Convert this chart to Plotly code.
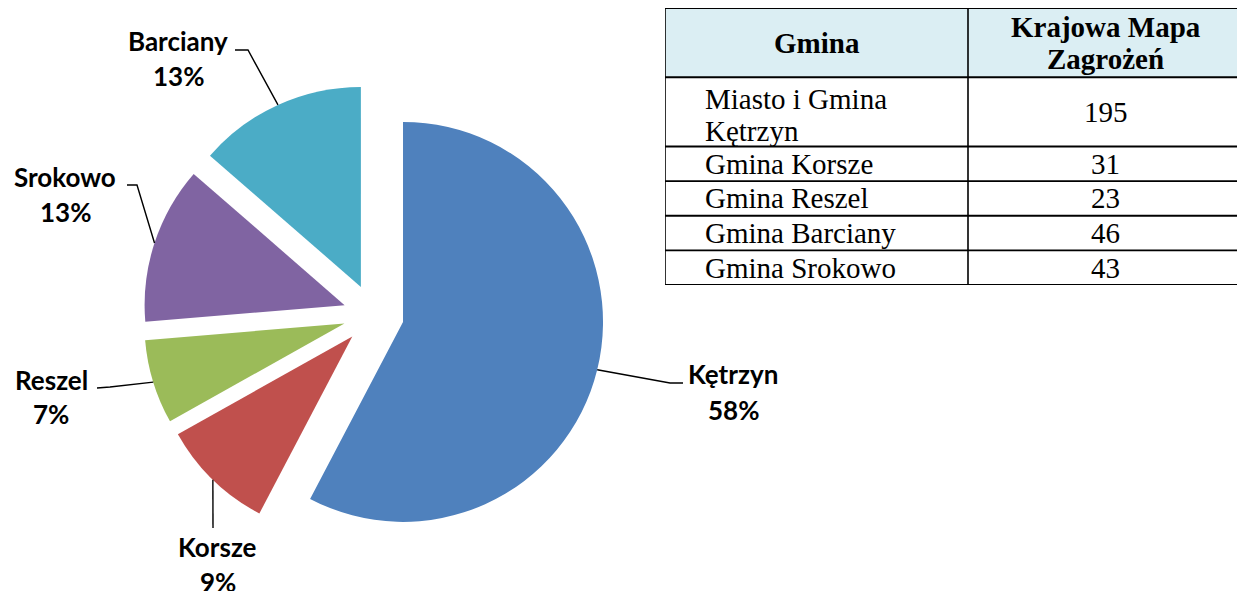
import math
import plotly.graph_objects as go

# ---------------- data ----------------
pie_labels = ["Kętrzyn", "Korsze", "Reszel", "Srokowo", "Barciany"]
pie_values = [195, 31, 23, 43, 46]
pie_pct_text = ["58%", "9%", "7%", "13%", "13%"]
pie_colors = ["#4F81BD", "#C0504D", "#9BBB59", "#8064A2", "#4BACC6"]

table_header = ["Gmina", "Krajowa Mapa<br>Zagrożeń"]
table_names = ["Miasto i Gmina<br>Kętrzyn", "Gmina Korsze", "Gmina Reszel",
               "Gmina Barciany", "Gmina Srokowo"]
table_values = ["195", "31", "23", "46", "43"]

# ---------------- layout / style ----------------
W, H = 1245, 591
OFF = 8   # page body margin: positions below are screen px
PIE_CX, PIE_CY, PIE_R = 373.5 - OFF, 314.6 - OFF, 200.0
PULL = 0.152

# label placement (screen px): elbow of leader line, end of leader line, label centre
label_cfg = {
    "Kętrzyn":  dict(elbow=(670, 383), end=(683, 383), name=(733, 374), pct=(733, 410)),
    "Korsze":   dict(elbow=(213, 528), end=(213, 528), name=(218, 547), pct=(218, 582)),
    "Reszel":   dict(elbow=(110, 387), end=(97, 388), name=(51, 380), pct=(51, 414)),
    "Srokowo":  dict(elbow=(137, 185), end=(127, 185), name=(65, 177), pct=(65, 212)),
    "Barciany": dict(elbow=(248, 50), end=(235, 50), name=(178, 41), pct=(178, 76)),
}

TABLE_LEFT, TABLE_RIGHT, TABLE_TOP, TABLE_BOTTOM = 665 - OFF, 1243 - OFF, 7.3 - OFF, 285 - OFF
col_widths = [303, 275]
row_units = [2, 2, 1, 1, 1, 1]      # header + body rows
TEXT_PAD = 38
LINE_UNITS = 0.93
TABLE_FONT = "Liberation Serif, Times New Roman, serif"
LABEL_FONT = "Lato, Carlito, Calibri, sans-serif"


def px2paper(x, y):
    return (x - OFF) / W, 1 - (y - OFF) / H


box = PIE_R * (2 + 2 * PULL)
dom_x = [(PIE_CX - box / 2) / W, (PIE_CX + box / 2) / W]
dom_y = [1 - (PIE_CY + box / 2) / H, 1 - (PIE_CY - box / 2) / H]

fig = go.Figure()
fig.add_trace(go.Pie(
    labels=pie_labels, values=pie_values, sort=False, direction="clockwise",
    rotation=0, pull=[PULL] * len(pie_values),
    marker=dict(colors=pie_colors, line=dict(width=0)),
    textinfo="none", hoverinfo="label+value", showlegend=False,
    domain=dict(x=dom_x, y=dom_y),
))

shapes = []
annotations = []

# leader lines + labels, anchored at mid-angle of each pulled slice
total = sum(pie_values)
cum = 0
for lab, val, pct in zip(pie_labels, pie_values, pie_pct_text):
    mid = (cum + val / 2) / total * 2 * math.pi
    cum += val
    ax = PIE_CX + OFF + PIE_R * (1 + PULL) * math.sin(mid)
    ay = PIE_CY + OFF - PIE_R * (1 + PULL) * math.cos(mid)
    cfg = label_cfg[lab]
    pts = [px2paper(ax, ay), px2paper(*cfg["elbow"]), px2paper(*cfg["end"])]
    path = "M {} {} L {} {} L {} {}".format(*[c for p in pts for c in p])
    shapes.append(dict(type="path", path=path, xref="paper", yref="paper",
                       line=dict(color="black", width=1.4)))
    for key, txt in (("name", lab), ("pct", pct)):
        x, y = px2paper(*cfg[key])
        annotations.append(dict(x=x, y=y, xref="paper", yref="paper", text=txt,
                                showarrow=False, xanchor="center", yanchor="middle",
                                font=dict(family=LABEL_FONT, size=26, color="black",
                                          weight="bold")))

# ---------------- table on its own axes ----------------
total_w = sum(col_widths)
total_h = sum(row_units)
col_edges = [0]
for w in col_widths:
    col_edges.append(col_edges[-1] + w)
row_edges = [0]
for h in row_units:
    row_edges.append(row_edges[-1] + h)

fig.add_trace(go.Scatter(x=[], y=[], xaxis="x2", yaxis="y2", showlegend=False,
                         hoverinfo="skip"))

shapes.append(dict(type="rect", xref="x2", yref="y2", x0=0, x1=total_w,
                   y0=row_edges[0], y1=row_edges[1], fillcolor="#DBEEF3",
                   line=dict(width=0), layer="below"))
for ry in row_edges:
    shapes.append(dict(type="line", xref="x2", yref="y2", x0=0, x1=total_w,
                       y0=ry, y1=ry, line=dict(color="black", width=1.8)))
for cx in col_edges:
    shapes.append(dict(type="line", xref="x2", yref="y2", x0=cx, x1=cx,
                       y0=0, y1=total_h, line=dict(color="black", width=1.6)))


def add_cell(text, col, row, bold, align):
    lines = text.split("<br>")
    yc = (row_edges[row] + row_edges[row + 1]) / 2
    if align == "left":
        x, xanchor = col_edges[col] + TEXT_PAD, "left"
    else:
        x, xanchor = (col_edges[col] + col_edges[col + 1]) / 2, "center"
    n = len(lines)
    shift = 0.08 if (n > 1 and not bold) else 0
    for k, ln in enumerate(lines):
        y = yc + (k - (n - 1) / 2) * LINE_UNITS + shift
        annotations.append(dict(x=x, y=y, xref="x2", yref="y2", text=ln,
                                showarrow=False, xanchor=xanchor, yanchor="middle",
                                font=dict(family=TABLE_FONT, size=29, color="black",
                                          weight="bold" if bold else "normal")))


for c, h in enumerate(table_header):
    add_cell(h, c, 0, True, "center")
for r, (nm, v) in enumerate(zip(table_names, table_values)):
    add_cell(nm, 0, r + 1, False, "left")
    add_cell(v, 1, r + 1, False, "center")

fig.update_layout(
    width=W, height=H,
    margin=dict(l=0, r=0, t=0, b=0),
    paper_bgcolor="white", plot_bgcolor="white",
    shapes=shapes, annotations=annotations,
    xaxis2=dict(domain=[TABLE_LEFT / W, TABLE_RIGHT / W], range=[0, total_w],
                visible=False, fixedrange=True, anchor="y2"),
    yaxis2=dict(domain=[max(0, 1 - TABLE_BOTTOM / H), min(1, 1 - TABLE_TOP / H)],
                range=[total_h, 0], visible=False, fixedrange=True, anchor="x2"),
)

fig.write_html("out.html")
